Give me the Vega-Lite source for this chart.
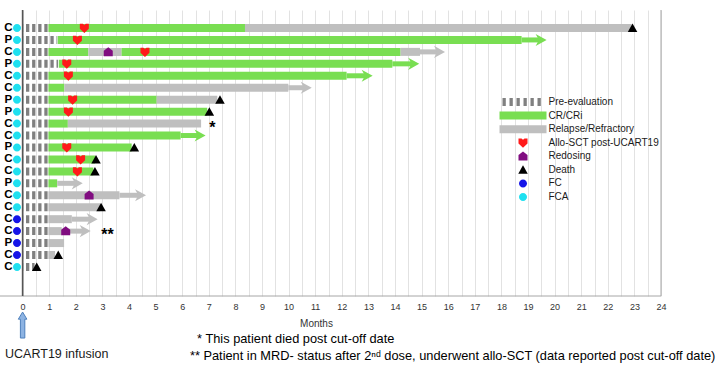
{
  "$schema": "https://vega.github.io/schema/vega-lite/v6.json",
  "width": 661,
  "height": 286,
  "autosize": {"type": "none"},
  "padding": {"left": 0, "top": 10, "right": 59, "bottom": 70},
  "background": "white",
  "config": {
    "view": {"stroke": null},
    "font": "Liberation Sans",
    "axisX": {
      "grid": true, "gridColor": "#E2E2E2", "gridWidth": 1,
      "ticks": false, "domain": false,
      "labelFontSize": 9, "labelColor": "#333333", "labelPadding": 6,
      "labelOverlap": false, "labelFlush": false,
      "titleFontSize": 10, "titleFontWeight": "normal", "titleColor": "#333333",
      "titlePadding": 7
    }
  },
  "datasets": {
    "frame": [{"a": 0}],
    "pre": [
      {"row": 1, "m": 0, "m2": 0.97, "cat": "Pre-evaluation"},
      {"row": 2, "m": 0, "m2": 1.3, "cat": "Pre-evaluation"},
      {"row": 3, "m": 0, "m2": 0.97, "cat": "Pre-evaluation"},
      {"row": 4, "m": 0, "m2": 1.33, "cat": "Pre-evaluation"},
      {"row": 5, "m": 0, "m2": 0.97, "cat": "Pre-evaluation"},
      {"row": 6, "m": 0, "m2": 0.97, "cat": "Pre-evaluation"},
      {"row": 7, "m": 0, "m2": 0.97, "cat": "Pre-evaluation"},
      {"row": 8, "m": 0, "m2": 0.97, "cat": "Pre-evaluation"},
      {"row": 9, "m": 0, "m2": 0.97, "cat": "Pre-evaluation"},
      {"row": 10, "m": 0, "m2": 0.97, "cat": "Pre-evaluation"},
      {"row": 11, "m": 0, "m2": 0.97, "cat": "Pre-evaluation"},
      {"row": 12, "m": 0, "m2": 0.97, "cat": "Pre-evaluation"},
      {"row": 13, "m": 0, "m2": 0.97, "cat": "Pre-evaluation"},
      {"row": 14, "m": 0, "m2": 0.97, "cat": "Pre-evaluation"},
      {"row": 15, "m": 0, "m2": 0.97, "cat": "Pre-evaluation"},
      {"row": 16, "m": 0, "m2": 0.97, "cat": "Pre-evaluation"},
      {"row": 17, "m": 0, "m2": 0.97, "cat": "Pre-evaluation"},
      {"row": 18, "m": 0, "m2": 0.97, "cat": "Pre-evaluation"},
      {"row": 19, "m": 0, "m2": 0.97, "cat": "Pre-evaluation"},
      {"row": 20, "m": 0, "m2": 0.97, "cat": "Pre-evaluation"},
      {"row": 21, "m": 0, "m2": 0.45, "cat": "Pre-evaluation"}
    ],
    "bars": [
      {"row": 1, "m": 0.97, "m2": 8.36, "cat": "CR/CRi"},
      {"row": 1, "m": 8.36, "m2": 22.9, "cat": "Relapse/Refractory"},
      {"row": 2, "m": 1.32, "m2": 18.76, "cat": "CR/CRi"},
      {"row": 3, "m": 0.97, "m2": 2.47, "cat": "CR/CRi"},
      {"row": 3, "m": 2.47, "m2": 3.72, "cat": "Relapse/Refractory"},
      {"row": 3, "m": 3.72, "m2": 14.21, "cat": "CR/CRi"},
      {"row": 3, "m": 14.21, "m2": 14.94, "cat": "Relapse/Refractory"},
      {"row": 4, "m": 1.36, "m2": 13.9, "cat": "CR/CRi"},
      {"row": 5, "m": 0.97, "m2": 12.18, "cat": "CR/CRi"},
      {"row": 6, "m": 0.97, "m2": 1.57, "cat": "CR/CRi"},
      {"row": 6, "m": 1.57, "m2": 9.99, "cat": "Relapse/Refractory"},
      {"row": 7, "m": 0.97, "m2": 5.04, "cat": "CR/CRi"},
      {"row": 7, "m": 5.04, "m2": 7.32, "cat": "Relapse/Refractory"},
      {"row": 8, "m": 0.97, "m2": 6.94, "cat": "CR/CRi"},
      {"row": 9, "m": 0.97, "m2": 1.7, "cat": "CR/CRi"},
      {"row": 9, "m": 1.7, "m2": 6.71, "cat": "Relapse/Refractory"},
      {"row": 10, "m": 0.97, "m2": 5.94, "cat": "CR/CRi"},
      {"row": 11, "m": 0.97, "m2": 4.1, "cat": "CR/CRi"},
      {"row": 12, "m": 0.97, "m2": 2.72, "cat": "CR/CRi"},
      {"row": 13, "m": 0.97, "m2": 2.66, "cat": "CR/CRi"},
      {"row": 14, "m": 0.97, "m2": 1.3, "cat": "CR/CRi"},
      {"row": 15, "m": 0.97, "m2": 3.64, "cat": "Relapse/Refractory"},
      {"row": 16, "m": 0.97, "m2": 2.91, "cat": "Relapse/Refractory"},
      {"row": 17, "m": 0.97, "m2": 1.85, "cat": "Relapse/Refractory"},
      {"row": 18, "m": 0.97, "m2": 1.47, "cat": "Relapse/Refractory"},
      {"row": 19, "m": 0.97, "m2": 1.56, "cat": "Relapse/Refractory"},
      {"row": 20, "m": 0.97, "m2": 1.22, "cat": "Relapse/Refractory"}
    ],
    "arrows": [
      {"row": 2, "m": 18.76, "m2": 19.7, "cat": "CR/CRi"},
      {"row": 3, "m": 14.94, "m2": 15.88, "cat": "Relapse/Refractory"},
      {"row": 4, "m": 13.9, "m2": 14.91, "cat": "CR/CRi"},
      {"row": 5, "m": 12.18, "m2": 13.16, "cat": "CR/CRi"},
      {"row": 6, "m": 9.99, "m2": 10.87, "cat": "Relapse/Refractory"},
      {"row": 10, "m": 5.94, "m2": 6.88, "cat": "CR/CRi"},
      {"row": 14, "m": 1.3, "m2": 2.26, "cat": "Relapse/Refractory"},
      {"row": 15, "m": 3.64, "m2": 4.64, "cat": "Relapse/Refractory"},
      {"row": 17, "m": 1.85, "m2": 2.82, "cat": "Relapse/Refractory"},
      {"row": 18, "m": 1.47, "m2": 2.56, "cat": "Relapse/Refractory"}
    ],
    "events": [
      {"row": 1, "m": 2.32, "cat": "Allo-SCT post-UCART19"},
      {"row": 2, "m": 2.06, "cat": "Allo-SCT post-UCART19"},
      {"row": 3, "m": 4.6, "cat": "Allo-SCT post-UCART19"},
      {"row": 4, "m": 1.66, "cat": "Allo-SCT post-UCART19"},
      {"row": 5, "m": 1.72, "cat": "Allo-SCT post-UCART19"},
      {"row": 7, "m": 1.88, "cat": "Allo-SCT post-UCART19"},
      {"row": 8, "m": 1.72, "cat": "Allo-SCT post-UCART19"},
      {"row": 11, "m": 1.66, "cat": "Allo-SCT post-UCART19"},
      {"row": 12, "m": 2.18, "cat": "Allo-SCT post-UCART19"},
      {"row": 13, "m": 2.06, "cat": "Allo-SCT post-UCART19"},
      {"row": 3, "m": 3.22, "cat": "Redosing"},
      {"row": 15, "m": 2.5, "cat": "Redosing"},
      {"row": 18, "m": 1.62, "cat": "Redosing"},
      {"row": 1, "m": 22.93, "cat": "Death"},
      {"row": 7, "m": 7.42, "cat": "Death"},
      {"row": 8, "m": 7.02, "cat": "Death"},
      {"row": 11, "m": 4.2, "cat": "Death"},
      {"row": 12, "m": 2.76, "cat": "Death"},
      {"row": 13, "m": 2.72, "cat": "Death"},
      {"row": 16, "m": 2.95, "cat": "Death"},
      {"row": 20, "m": 1.34, "cat": "Death"},
      {"row": 21, "m": 0.53, "cat": "Death"}
    ],
    "patients": [
      {"row": 1, "letter": "C", "cat": "FCA"},
      {"row": 2, "letter": "P", "cat": "FCA"},
      {"row": 3, "letter": "C", "cat": "FCA"},
      {"row": 4, "letter": "P", "cat": "FCA"},
      {"row": 5, "letter": "C", "cat": "FCA"},
      {"row": 6, "letter": "C", "cat": "FCA"},
      {"row": 7, "letter": "P", "cat": "FCA"},
      {"row": 8, "letter": "P", "cat": "FCA"},
      {"row": 9, "letter": "C", "cat": "FCA"},
      {"row": 10, "letter": "C", "cat": "FCA"},
      {"row": 11, "letter": "P", "cat": "FCA"},
      {"row": 12, "letter": "C", "cat": "FCA"},
      {"row": 13, "letter": "C", "cat": "FCA"},
      {"row": 14, "letter": "P", "cat": "FCA"},
      {"row": 15, "letter": "C", "cat": "FCA"},
      {"row": 16, "letter": "C", "cat": "FCA"},
      {"row": 17, "letter": "C", "cat": "FC"},
      {"row": 18, "letter": "C", "cat": "FC"},
      {"row": 19, "letter": "P", "cat": "FC"},
      {"row": 20, "letter": "C", "cat": "FC"},
      {"row": 21, "letter": "C", "cat": "FCA"}
    ],
    "stars": [
      {"row": 9, "m": 7.13, "label": "*"},
      {"row": 18, "m": 3.19, "label": "**"}
    ],
    "notes": [
      {"row": 27.03, "m": 6.56, "label": "* This patient died post cut-off date"},
      {"row": 28.45, "m": 6.29, "label": "** Patient in MRD- status after 2ⁿᵈ dose, underwent allo-SCT (data reported post cut-off date)"}
    ]
  },
  "layer": [
    {
      "data": {"name": "frame"},
      "mark": {"type": "rule", "strokeWidth": 1, "color": "#A6A6A6"},
      "encoding": {
        "x": {"datum": 24, "type": "quantitative", "title": "Months", "scale": {"domain": [-0.85, 24], "nice": false, "zero": false}, "axis": {"values": [0,0.5,1,1.5,2,2.5,3,3.5,4,4.5,5,5.5,6,6.5,7,7.5,8,8.5,9,9.5,10,10.5,11,11.5,12,12.5,13,13.5,14,14.5,15,15.5,16,16.5,17,17.5,18,18.5,19,19.5,20,20.5,21,21.5,22,22.5,23,23.5,24], "labelExpr": "datum.value % 1 === 0 ? format(datum.value, 'd') : ''", "titleX": 316}},
        "y": {"datum": -0.506, "type": "quantitative", "scale": {"domain": [-0.506, 23.43], "nice": false, "zero": false, "reverse": true}, "axis": null},
        "y2": {"datum": 23.43}
      }
    },
    {
      "data": {"name": "frame"},
      "mark": {"type": "rule", "strokeWidth": 1, "color": "#A6A6A6"},
      "encoding": {
        "x": {"datum": -0.85, "type": "quantitative", "title": "Months", "scale": {"domain": [-0.85, 24], "nice": false, "zero": false}, "axis": {"values": [0,0.5,1,1.5,2,2.5,3,3.5,4,4.5,5,5.5,6,6.5,7,7.5,8,8.5,9,9.5,10,10.5,11,11.5,12,12.5,13,13.5,14,14.5,15,15.5,16,16.5,17,17.5,18,18.5,19,19.5,20,20.5,21,21.5,22,22.5,23,23.5,24], "labelExpr": "datum.value % 1 === 0 ? format(datum.value, 'd') : ''", "titleX": 316}},
        "x2": {"datum": 24},
        "y": {"datum": 23.43, "type": "quantitative", "scale": {"domain": [-0.506, 23.43], "nice": false, "zero": false, "reverse": true}, "axis": null}
      }
    },
    {
      "data": {"name": "pre"},
      "mark": {"type": "rule", "strokeWidth": 8, "strokeCap": "butt", "strokeDash": [3.3, 2.8], "strokeDashOffset": 2.7},
      "encoding": {
        "x": {"field": "m", "type": "quantitative", "title": "Months", "scale": {"domain": [-0.85, 24], "nice": false, "zero": false}, "axis": {"values": [0,0.5,1,1.5,2,2.5,3,3.5,4,4.5,5,5.5,6,6.5,7,7.5,8,8.5,9,9.5,10,10.5,11,11.5,12,12.5,13,13.5,14,14.5,15,15.5,16,16.5,17,17.5,18,18.5,19,19.5,20,20.5,21,21.5,22,22.5,23,23.5,24], "labelExpr": "datum.value % 1 === 0 ? format(datum.value, 'd') : ''", "titleX": 316}},
        "x2": {"field": "m2"},
        "y": {"field": "row", "type": "quantitative", "scale": {"domain": [-0.506, 23.43], "nice": false, "zero": false, "reverse": true}, "axis": null},
        "color": {
          "field": "cat", "type": "nominal",
          "scale": {
            "domain": ["Pre-evaluation", "CR/CRi", "Relapse/Refractory", "Allo-SCT post-UCART19", "Redosing", "Death", "FC", "FCA"],
            "range": ["#808080", "#79DE52", "#BFBFBF", "#FF1A1A", "#800D80", "#000000", "#1414E8", "#1EE0F0"]
          },
          "legend": {
            "orient": "none", "legendX": 518, "legendY": 87, "title": null,
            "padding": 0, "offset": 0,
            "labelFontSize": 10, "labelFont": "Liberation Sans", "labelColor": "#1a1a1a",
            "labelOffset": 20.5, "labelLimit": 250,
            "symbolSize": 100, "symbolStrokeWidth": 0, "rowPadding": 3.57,
            "encode": {
              "symbols": {
                "update": {
                  "shape": {"scale": "shape", "field": "value"},
                  "fill": {"scale": "color", "field": "value"},
                  "stroke": {"value": "transparent"},
                  "strokeWidth": {"value": 0},
                  "opacity": {"value": 1},
                  "size": {"value": 100}
                }
              }
            }
          }
        }
      }
    },
    {
      "data": {"name": "bars"},
      "mark": {"type": "rule", "strokeWidth": 8, "strokeCap": "butt"},
      "encoding": {
        "x": {"field": "m", "type": "quantitative", "title": "Months", "scale": {"domain": [-0.85, 24], "nice": false, "zero": false}, "axis": {"values": [0,0.5,1,1.5,2,2.5,3,3.5,4,4.5,5,5.5,6,6.5,7,7.5,8,8.5,9,9.5,10,10.5,11,11.5,12,12.5,13,13.5,14,14.5,15,15.5,16,16.5,17,17.5,18,18.5,19,19.5,20,20.5,21,21.5,22,22.5,23,23.5,24], "labelExpr": "datum.value % 1 === 0 ? format(datum.value, 'd') : ''", "titleX": 316}},
        "x2": {"field": "m2"},
        "y": {"field": "row", "type": "quantitative", "scale": {"domain": [-0.506, 23.43], "nice": false, "zero": false, "reverse": true}, "axis": null},
        "color": {"field": "cat", "type": "nominal"}
      }
    },
    {
      "data": {"name": "arrows"},
      "mark": {"type": "rule", "strokeWidth": 5, "strokeCap": "butt", "x2Offset": -7},
      "encoding": {
        "x": {"field": "m", "type": "quantitative", "title": "Months", "scale": {"domain": [-0.85, 24], "nice": false, "zero": false}, "axis": {"values": [0,0.5,1,1.5,2,2.5,3,3.5,4,4.5,5,5.5,6,6.5,7,7.5,8,8.5,9,9.5,10,10.5,11,11.5,12,12.5,13,13.5,14,14.5,15,15.5,16,16.5,17,17.5,18,18.5,19,19.5,20,20.5,21,21.5,22,22.5,23,23.5,24], "labelExpr": "datum.value % 1 === 0 ? format(datum.value, 'd') : ''", "titleX": 316}},
        "x2": {"field": "m2"},
        "y": {"field": "row", "type": "quantitative", "scale": {"domain": [-0.506, 23.43], "nice": false, "zero": false, "reverse": true}, "axis": null},
        "color": {"field": "cat", "type": "nominal"}
      }
    },
    {
      "data": {"name": "arrows"},
      "mark": {"type": "point", "shape": "M-2,-1.1L0,0L-2,1.1L-1.4,0Z", "filled": true, "size": 121, "opacity": 1, "strokeWidth": 0},
      "encoding": {
        "x": {"field": "m2", "type": "quantitative", "title": "Months", "scale": {"domain": [-0.85, 24], "nice": false, "zero": false}, "axis": {"values": [0,0.5,1,1.5,2,2.5,3,3.5,4,4.5,5,5.5,6,6.5,7,7.5,8,8.5,9,9.5,10,10.5,11,11.5,12,12.5,13,13.5,14,14.5,15,15.5,16,16.5,17,17.5,18,18.5,19,19.5,20,20.5,21,21.5,22,22.5,23,23.5,24], "labelExpr": "datum.value % 1 === 0 ? format(datum.value, 'd') : ''", "titleX": 316}},
        "y": {"field": "row", "type": "quantitative", "scale": {"domain": [-0.506, 23.43], "nice": false, "zero": false, "reverse": true}, "axis": null},
        "color": {"field": "cat", "type": "nominal"}
      }
    },
    {
      "data": {"name": "frame"},
      "mark": {"type": "rule", "strokeWidth": 1.6, "color": "#555555"},
      "encoding": {
        "x": {"datum": 0, "type": "quantitative", "title": "Months", "scale": {"domain": [-0.85, 24], "nice": false, "zero": false}, "axis": {"values": [0,0.5,1,1.5,2,2.5,3,3.5,4,4.5,5,5.5,6,6.5,7,7.5,8,8.5,9,9.5,10,10.5,11,11.5,12,12.5,13,13.5,14,14.5,15,15.5,16,16.5,17,17.5,18,18.5,19,19.5,20,20.5,21,21.5,22,22.5,23,23.5,24], "labelExpr": "datum.value % 1 === 0 ? format(datum.value, 'd') : ''", "titleX": 316}},
        "y": {"datum": -0.506, "type": "quantitative", "scale": {"domain": [-0.506, 23.43], "nice": false, "zero": false, "reverse": true}, "axis": null},
        "y2": {"datum": 23.43}
      }
    },
    {
      "data": {"name": "events"},
      "mark": {"type": "point", "filled": true, "size": 100, "opacity": 1, "strokeWidth": 0},
      "encoding": {
        "x": {"field": "m", "type": "quantitative", "title": "Months", "scale": {"domain": [-0.85, 24], "nice": false, "zero": false}, "axis": {"values": [0,0.5,1,1.5,2,2.5,3,3.5,4,4.5,5,5.5,6,6.5,7,7.5,8,8.5,9,9.5,10,10.5,11,11.5,12,12.5,13,13.5,14,14.5,15,15.5,16,16.5,17,17.5,18,18.5,19,19.5,20,20.5,21,21.5,22,22.5,23,23.5,24], "labelExpr": "datum.value % 1 === 0 ? format(datum.value, 'd') : ''", "titleX": 316}},
        "y": {"field": "row", "type": "quantitative", "scale": {"domain": [-0.506, 23.43], "nice": false, "zero": false, "reverse": true}, "axis": null},
        "color": {"field": "cat", "type": "nominal"},
        "shape": {
          "field": "cat", "type": "nominal", "legend": null,
          "scale": {
            "domain": ["Pre-evaluation", "CR/CRi", "Relapse/Refractory", "Allo-SCT post-UCART19", "Redosing", "Death", "FC", "FCA"],
            "range": [
              "M-4.1,-0.8H-3.44V0.8H-4.1Z M-2.7,-0.8H-2.04V0.8H-2.7Z M-1.3,-0.8H-0.64V0.8H-1.3Z M0.1,-0.8H0.76V0.8H0.1Z M1.5,-0.8H2.16V0.8H1.5Z M2.9,-0.8H3.56V0.8H2.9Z M-4.7,0 M4.7,0",
              "M-4.7,-0.8H4.7V0.8H-4.7Z",
              "M-4.7,-0.8H4.7V0.8H-4.7Z",
              "M-0.9,-0.85L-0.3,-0.85L0,-0.6L0.3,-0.85L0.9,-0.85L0.9,0.15L0,1L-0.9,0.15Z M-4.7,0 M4.7,0",
              "M0,-0.95L0.9,-0.25L0.9,0.85L-0.9,0.85L-0.9,-0.25Z M-4.7,0 M4.7,0",
              "M0,-0.9L0.95,0.8L-0.95,0.8Z M-4.7,0 M4.7,0",
              "M-0.8,0A0.8,0.8 0 1,0 0.8,0A0.8,0.8 0 1,0 -0.8,0Z M-4.7,0 M4.7,0",
              "M-0.8,0A0.8,0.8 0 1,0 0.8,0A0.8,0.8 0 1,0 -0.8,0Z M-4.7,0 M4.7,0"
            ]
          }
        }
      }
    },
    {
      "data": {"name": "patients"},
      "mark": {"type": "point", "filled": true, "size": 100, "opacity": 1, "strokeWidth": 0},
      "encoding": {
        "x": {"datum": -0.211, "type": "quantitative", "title": "Months", "scale": {"domain": [-0.85, 24], "nice": false, "zero": false}, "axis": {"values": [0,0.5,1,1.5,2,2.5,3,3.5,4,4.5,5,5.5,6,6.5,7,7.5,8,8.5,9,9.5,10,10.5,11,11.5,12,12.5,13,13.5,14,14.5,15,15.5,16,16.5,17,17.5,18,18.5,19,19.5,20,20.5,21,21.5,22,22.5,23,23.5,24], "labelExpr": "datum.value % 1 === 0 ? format(datum.value, 'd') : ''", "titleX": 316}},
        "y": {"field": "row", "type": "quantitative", "scale": {"domain": [-0.506, 23.43], "nice": false, "zero": false, "reverse": true}, "axis": null},
        "color": {"field": "cat", "type": "nominal"},
        "shape": {
          "field": "cat", "type": "nominal", "legend": null,
          "scale": {
            "domain": ["Pre-evaluation", "CR/CRi", "Relapse/Refractory", "Allo-SCT post-UCART19", "Redosing", "Death", "FC", "FCA"],
            "range": [
              "M-4.1,-0.8H-3.44V0.8H-4.1Z M-2.7,-0.8H-2.04V0.8H-2.7Z M-1.3,-0.8H-0.64V0.8H-1.3Z M0.1,-0.8H0.76V0.8H0.1Z M1.5,-0.8H2.16V0.8H1.5Z M2.9,-0.8H3.56V0.8H2.9Z M-4.7,0 M4.7,0",
              "M-4.7,-0.8H4.7V0.8H-4.7Z",
              "M-4.7,-0.8H4.7V0.8H-4.7Z",
              "M-0.9,-0.85L-0.3,-0.85L0,-0.6L0.3,-0.85L0.9,-0.85L0.9,0.15L0,1L-0.9,0.15Z M-4.7,0 M4.7,0",
              "M0,-0.95L0.9,-0.25L0.9,0.85L-0.9,0.85L-0.9,-0.25Z M-4.7,0 M4.7,0",
              "M0,-0.9L0.95,0.8L-0.95,0.8Z M-4.7,0 M4.7,0",
              "M-0.8,0A0.8,0.8 0 1,0 0.8,0A0.8,0.8 0 1,0 -0.8,0Z M-4.7,0 M4.7,0",
              "M-0.8,0A0.8,0.8 0 1,0 0.8,0A0.8,0.8 0 1,0 -0.8,0Z M-4.7,0 M4.7,0"
            ]
          }
        }
      }
    },
    {
      "data": {"name": "patients"},
      "mark": {"type": "text", "fontSize": 11.5, "fontWeight": "bold", "align": "center", "baseline": "middle", "color": "#000000"},
      "encoding": {
        "x": {"datum": -0.538, "type": "quantitative", "title": "Months", "scale": {"domain": [-0.85, 24], "nice": false, "zero": false}, "axis": {"values": [0,0.5,1,1.5,2,2.5,3,3.5,4,4.5,5,5.5,6,6.5,7,7.5,8,8.5,9,9.5,10,10.5,11,11.5,12,12.5,13,13.5,14,14.5,15,15.5,16,16.5,17,17.5,18,18.5,19,19.5,20,20.5,21,21.5,22,22.5,23,23.5,24], "labelExpr": "datum.value % 1 === 0 ? format(datum.value, 'd') : ''", "titleX": 316}},
        "y": {"field": "row", "type": "quantitative", "scale": {"domain": [-0.506, 23.43], "nice": false, "zero": false, "reverse": true}, "axis": null},
        "text": {"field": "letter"}
      }
    },
    {
      "data": {"name": "stars"},
      "mark": {"type": "text", "fontSize": 16, "fontWeight": "bold", "align": "center", "baseline": "middle", "dy": 4, "color": "#000000"},
      "encoding": {
        "x": {"field": "m", "type": "quantitative", "title": "Months", "scale": {"domain": [-0.85, 24], "nice": false, "zero": false}, "axis": {"values": [0,0.5,1,1.5,2,2.5,3,3.5,4,4.5,5,5.5,6,6.5,7,7.5,8,8.5,9,9.5,10,10.5,11,11.5,12,12.5,13,13.5,14,14.5,15,15.5,16,16.5,17,17.5,18,18.5,19,19.5,20,20.5,21,21.5,22,22.5,23,23.5,24], "labelExpr": "datum.value % 1 === 0 ? format(datum.value, 'd') : ''", "titleX": 316}},
        "y": {"field": "row", "type": "quantitative", "scale": {"domain": [-0.506, 23.43], "nice": false, "zero": false, "reverse": true}, "axis": null},
        "text": {"field": "label"}
      }
    },
    {
      "data": {"name": "frame"},
      "mark": {"type": "point", "shape": "M0,-1L0.33,-0.45L0.17,-0.45L0.17,1L-0.17,1L-0.17,-0.45L-0.33,-0.45Z", "size": 676, "filled": true, "opacity": 1, "fill": "#8DB3E2", "stroke": "#4F81BD", "strokeWidth": 1},
      "encoding": {
        "x": {"datum": 0, "type": "quantitative", "title": "Months", "scale": {"domain": [-0.85, 24], "nice": false, "zero": false}, "axis": {"values": [0,0.5,1,1.5,2,2.5,3,3.5,4,4.5,5,5.5,6,6.5,7,7.5,8,8.5,9,9.5,10,10.5,11,11.5,12,12.5,13,13.5,14,14.5,15,15.5,16,16.5,17,17.5,18,18.5,19,19.5,20,20.5,21,21.5,22,22.5,23,23.5,24], "labelExpr": "datum.value % 1 === 0 ? format(datum.value, 'd') : ''", "titleX": 316}},
        "y": {"datum": 25.86, "type": "quantitative", "scale": {"domain": [-0.506, 23.43], "nice": false, "zero": false, "reverse": true}, "axis": null}
      }
    },
    {
      "data": {"name": "frame"},
      "mark": {"type": "text", "fontSize": 12.5, "align": "left", "baseline": "middle", "color": "#1a1a1a"},
      "encoding": {
        "x": {"datum": -0.66, "type": "quantitative", "title": "Months", "scale": {"domain": [-0.85, 24], "nice": false, "zero": false}, "axis": {"values": [0,0.5,1,1.5,2,2.5,3,3.5,4,4.5,5,5.5,6,6.5,7,7.5,8,8.5,9,9.5,10,10.5,11,11.5,12,12.5,13,13.5,14,14.5,15,15.5,16,16.5,17,17.5,18,18.5,19,19.5,20,20.5,21,21.5,22,22.5,23,23.5,24], "labelExpr": "datum.value % 1 === 0 ? format(datum.value, 'd') : ''", "titleX": 316}},
        "y": {"datum": 28.28, "type": "quantitative", "scale": {"domain": [-0.506, 23.43], "nice": false, "zero": false, "reverse": true}, "axis": null},
        "text": {"value": "UCART19 infusion"}
      }
    },
    {
      "data": {"name": "notes"},
      "mark": {"type": "text", "fontSize": 12.8, "align": "left", "baseline": "middle", "color": "#000000"},
      "encoding": {
        "x": {"field": "m", "type": "quantitative", "title": "Months", "scale": {"domain": [-0.85, 24], "nice": false, "zero": false}, "axis": {"values": [0,0.5,1,1.5,2,2.5,3,3.5,4,4.5,5,5.5,6,6.5,7,7.5,8,8.5,9,9.5,10,10.5,11,11.5,12,12.5,13,13.5,14,14.5,15,15.5,16,16.5,17,17.5,18,18.5,19,19.5,20,20.5,21,21.5,22,22.5,23,23.5,24], "labelExpr": "datum.value % 1 === 0 ? format(datum.value, 'd') : ''", "titleX": 316}},
        "y": {"field": "row", "type": "quantitative", "scale": {"domain": [-0.506, 23.43], "nice": false, "zero": false, "reverse": true}, "axis": null},
        "text": {"field": "label"}
      }
    }
  ]
}
